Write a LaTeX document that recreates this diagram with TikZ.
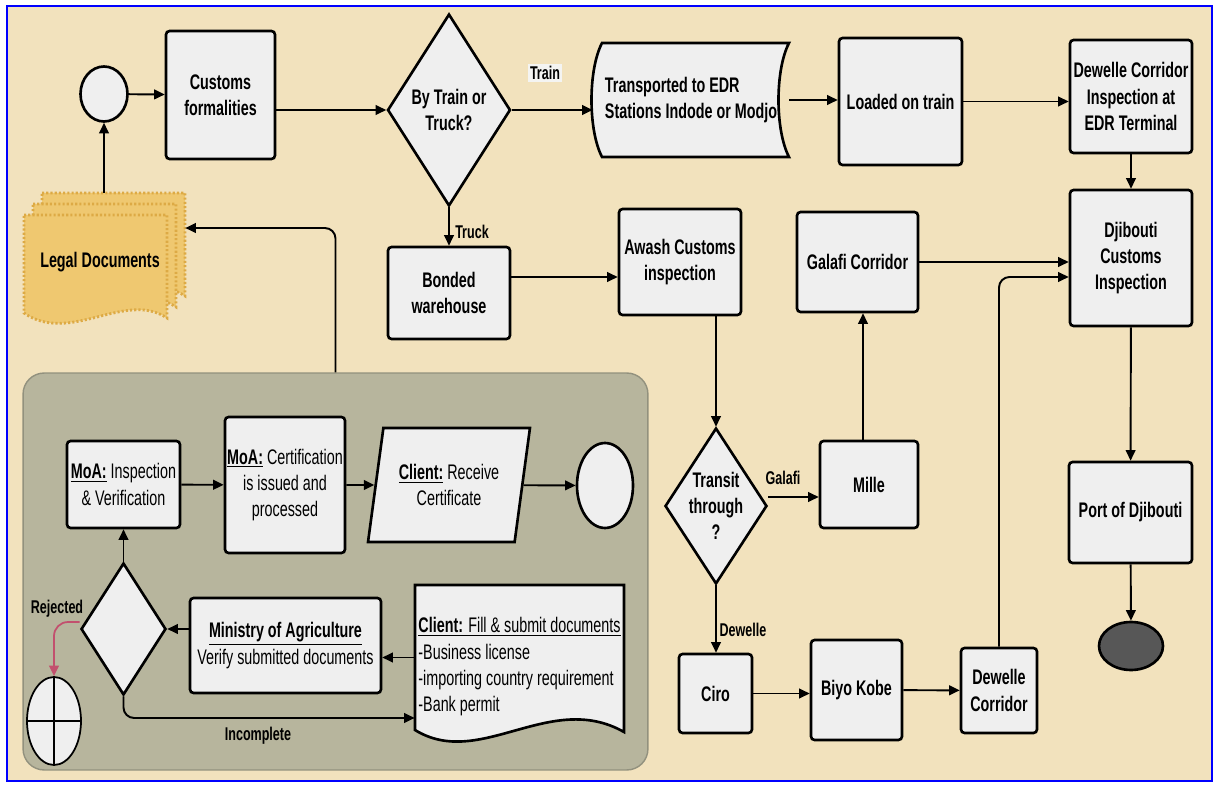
\documentclass[tikz,border=0pt]{standalone}
\usepackage{fontspec}
\setmainfont{Liberation Sans}[FakeStretch=0.68]
\usetikzlibrary{arrows.meta, shapes.geometric}

\definecolor{bgtan}{HTML}{F2E2BD}
\definecolor{boxgray}{HTML}{EFEFEF}
\definecolor{panelgray}{HTML}{B7B59D}
\definecolor{docgold}{HTML}{EFC870}
\definecolor{docedge}{HTML}{DDAA45}
\definecolor{rejred}{HTML}{C2506E}
\definecolor{endgray}{HTML}{575757}
\definecolor{labelbg}{HTML}{F4F4F2}

\begin{document}
\begin{tikzpicture}[x=0.02cm, y=-0.02cm,
    box/.style={draw, line width=1.5pt, rounded corners=2pt, fill=boxgray, align=center,
        inner sep=1pt, font=\bfseries\fontsize{12}{15}\selectfont},
    pbox/.style={box, font=\fontsize{12}{15}\selectfont},
    decision/.style={box, diamond, sharp corners, inner sep=0pt},
    arr/.style={-{Triangle[length=6pt,width=5.5pt]}, line width=1.1pt},
    lbl/.style={font=\bfseries\fontsize{10.5}{12}\selectfont, inner sep=1pt}]

    % page and frame
    \fill[white] (0,0) rectangle (1218,787);
    \draw[blue, line width=1.3pt, fill=bgtan] (7,6) rectangle (1212,781);

    % grey panel of the ministry procedure
    \node[draw=panelgray!80!black, fill=panelgray, line width=0.8pt, rounded corners=12pt,
        minimum width=12.5cm, minimum height=7.94cm] (panel) at (335.5,571.5) {};

    % legal documents (stack of three)
    \foreach \dx/\dy in {18/-22, 9/-11, 0/0} {
        \begin{scope}[shift={(\dx,\dy)}]
            \draw[docedge, line width=1.6pt, dash pattern=on 1.2pt off 1.2pt, fill=docgold]
                (24,215) -- (167,215) -- (167,318)
                .. controls (125,290) and (70,345) .. (24,313) -- cycle;
        \end{scope}
    }
    \node[font=\bfseries\fontsize{12}{15}\selectfont, inner sep=0pt,
        minimum width=3.4cm, minimum height=2.76cm] (legal) at (100,262) {Legal Documents};

    % stored data shape
    \draw[line width=1.5pt, fill=boxgray] (602,43) -- (789,43)
        .. controls (775,70) and (775,130) .. (789,157) -- (602,157)
        .. controls (588,130) and (588,70) .. (602,43) -- cycle;
    \node[font=\bfseries\fontsize{12}{15}\selectfont, align=left, inner sep=0pt,
        minimum width=3.92cm, minimum height=2.28cm] (trans) at (691,100)
        {Transported to EDR\\Stations Indode or Modjo};

    % main flow
    \node[box, ellipse, minimum width=0.94cm, minimum height=1.1cm] (start) at (104,94) {};
    \node[box, minimum width=2.18cm, minimum height=2.56cm] (customs) at (220.5,95) {Customs\\formalities};
    \node[decision, aspect=0.64, minimum width=2.46cm, minimum height=3.84cm] (mode) at (449,110) {By Train or\\Truck?};
    \node[box, minimum width=2.46cm, minimum height=2.54cm] (loaded) at (900.5,101.5) {Loaded on train};
    \node[box, minimum width=2.44cm, minimum height=2.26cm] (dewinsp) at (1131,96.5) {Dewelle Corridor\\Inspection at\\EDR Terminal};
    \node[box, minimum width=2.44cm, minimum height=2.72cm] (djcust) at (1131,258) {Djibouti\\Customs\\Inspection};
    \node[box, minimum width=2.42cm, minimum height=2.0cm] (galafi) at (857.5,262) {Galafi Corridor};
    \node[box, minimum width=2.44cm, minimum height=1.84cm] (bonded) at (449,293) {Bonded\\warehouse};
    \node[box, minimum width=2.44cm, minimum height=2.12cm] (awash) at (680,262) {Awash Customs\\inspection};
    \node[decision, aspect=0.65, minimum width=2.04cm, minimum height=3.12cm] (transit) at (716,506) {Transit\\through\\?};
    \node[box, minimum width=1.96cm, minimum height=1.74cm] (mille) at (869,484.5) {Mille};
    \node[box, minimum width=1.46cm, minimum height=1.58cm] (ciro) at (715.5,693.5) {Ciro};
    \node[box, minimum width=1.82cm, minimum height=2.0cm] (biyo) at (856.5,690) {Biyo Kobe};
    \node[box, minimum width=1.52cm, minimum height=1.7cm] (dewcorr) at (999,690.5) {Dewelle\\Corridor};
    \node[box, minimum width=2.46cm, minimum height=2.02cm] (port) at (1130.5,512.5) {Port of Djibouti};
    \node[box, ellipse, fill=endgray, minimum width=1.28cm, minimum height=0.96cm] (stop) at (1131,646) {};

    % panel flow
    \node[pbox, minimum width=2.26cm, minimum height=1.74cm] (moainsp) at (123.5,484.5)
        {\underline{\textbf{MoA:}} Inspection\\\& Verification};
    \node[pbox, minimum width=2.4cm, minimum height=2.72cm] (moacert) at (285,485)
        {\underline{\textbf{MoA:}} Certification\\is issued and\\processed};
    \node[pbox, trapezium, sharp corners, trapezium left angle=75, trapezium right angle=105,
        trapezium stretches=true, minimum width=3.24cm, minimum height=2.28cm] (receive) at (449,485)
        {\underline{\textbf{Client:}} Receive\\Certificate};
    \node[box, ellipse, minimum width=1.12cm, minimum height=1.7cm] (clientend) at (605,485.5) {};
    \node[decision, minimum width=1.7cm, minimum height=2.64cm] (check) at (123.5,629) {};
    \node[pbox, minimum width=3.82cm, minimum height=1.9cm] (ministry) at (285.5,645.5)
        {\underline{\textbf{Ministry of Agriculture}}\\Verify submitted documents};
    \draw[line width=1.5pt, fill=boxgray] (415,585) -- (624,585) -- (624,732)
        .. controls (550,690) and (480,770) .. (415,730) -- cycle;
    \node[font=\fontsize{12}{15}\selectfont, align=left, inner sep=0pt,
        minimum width=4.18cm, minimum height=2.94cm] (fill) at (519.5,667)
        {\underline{\textbf{Client:} Fill \& submit documents}\\-Business license\\-importing country requirement\\-Bank permit};
    \node[box, ellipse, line width=1pt, minimum width=1.08cm, minimum height=1.76cm] (reject) at (54,721) {};
    \draw[line width=1pt] (reject.north) -- (reject.south);
    \draw[line width=1pt] (reject.west) -- (reject.east);

    % main flow arrows
    \draw[arr] (legal.north -| start) -- (start);
    \draw[arr] (start) -- (customs);
    \draw[arr] (customs.east |- mode.west) -- (mode.west);
    \draw[arr] (mode.east) -- (mode.east -| trans.west);
    \draw[arr] (trans.east) -- (trans.east -| loaded.west);
    \draw[arr] (loaded.east) -- (loaded.east -| dewinsp.west);
    \draw[arr] (dewinsp) -- (djcust);
    \draw[arr] (mode.south) -- (bonded.north);
    \draw[arr] ([yshift=0.32cm]bonded.east) -- ([yshift=0.32cm]bonded.east -| awash.west);
    \draw[arr] (awash.south -| transit.north) -- (transit.north);
    \draw[arr] ([yshift=0.18cm]transit.east) -- ([yshift=0.18cm]transit.east -| mille.west);
    \draw[arr] ([xshift=-0.12cm]mille.north) -- ([xshift=-0.12cm]mille.north |- galafi.south);
    \draw[arr] (galafi.east) -- (galafi.east -| djcust.west);
    \draw[arr] (transit.south) -- (transit.south |- ciro.north);
    \draw[arr] (ciro.east) -- (ciro.east -| biyo.west);
    \draw[arr] (biyo) -- (dewcorr);
    \draw[arr, rounded corners=6pt] (dewcorr.north) |- ([yshift=-0.38cm]djcust.west);
    \draw[arr] (djcust) -- (port);
    \draw[arr] (port) -- (stop);
    \draw[arr, rounded corners=6pt] (panel.north) |- ([yshift=0.68cm]legal.east);

    % panel arrows
    \draw[arr] (moainsp) -- (moacert);
    \draw[arr] (moacert) -- (receive);
    \draw[arr] (receive) -- (clientend);
    \draw[arr] (check) -- (moainsp);
    \draw[arr] (ministry.west |- check.east) -- (check.east);
    \draw[arr] ([yshift=-0.24cm]ministry.east -| fill.west) -- ([yshift=-0.24cm]ministry.east);
    \draw[arr, rounded corners=6pt] (check.south) |- ([yshift=-1.02cm]fill.west);
    \draw[arr, rejred, line width=1pt, rounded corners=8pt] ([yshift=0.14cm]check.west) -| (reject.north);

    % branch labels
    \node[lbl, fill=labelbg] (trainlbl) at (545,73) {Train};
    \node[lbl] (trucklbl) at (472,232) {Truck};
    \node[lbl] (galafilbl) at (783,478) {Galafi};
    \node[lbl] (dewellelbl) at (743,630) {Dewelle};
    \node[lbl] (rejlbl) at (57,609) {Rejected};
    \node[lbl] (inclbl) at (258,736) {Incomplete};
\end{tikzpicture}
\end{document}
